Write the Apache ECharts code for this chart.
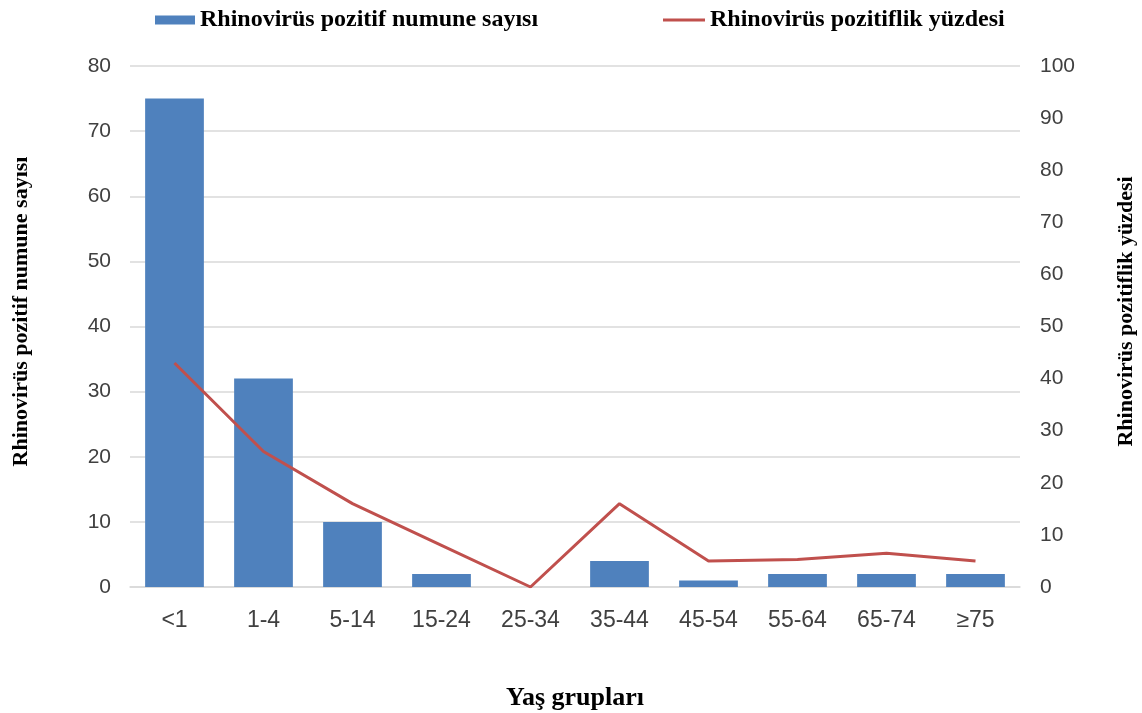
<!DOCTYPE html>
<html>
<head>
<meta charset="utf-8">
<script src="https://cdn.jsdelivr.net/npm/echarts@6/dist/echarts.min.js"></script>
<style>html,body{margin:0;padding:0;background:#fff}#c{width:1142px;height:713px}</style>
</head>
<body>
<div id="c"></div>
<script>
const categories = ['<1','1-4','5-14','15-24','25-34','35-44','45-54','55-64','65-74','≥75'];
const positiveCounts = [75, 32, 10, 2, 0, 4, 1, 2, 2, 2];
const positivityPercent = [43, 26, 16, 8, 0, 16, 5, 5.3, 6.5, 5];
const barName = 'Rhinovirüs pozitif numune sayısı';
const lineName = 'Rhinovirüs pozitiflik yüzdesi';
const xTitle = 'Yaş grupları';

const serif = '"Liberation Serif","Times New Roman",serif';
const sans = '"Liberation Sans",Arial,sans-serif';
const chart = echarts.init(document.getElementById('c'), null, {renderer:'canvas'});
chart.setOption({
  animation:false,
  backgroundColor:'#fff',
  grid:{left:130,right:122,top:66,bottom:126,containLabel:false,outerBoundsMode:'none'},
  legend:[
    {left:150, top:3, itemWidth:40, itemHeight:9, itemGap:4, data:[{name:barName, icon:'rect'}],
     textStyle:{fontFamily:serif,fontWeight:'bold',fontSize:24,color:'#000'}},
    {left:658, top:3, itemWidth:42, itemHeight:3, data:[{name:lineName, icon:'rect'}],
     textStyle:{fontFamily:serif,fontWeight:'bold',fontSize:24,color:'#000'}}
  ],
  xAxis:{type:'category', data:categories,
    name:xTitle, nameLocation:'middle', nameGap:98,
    nameTextStyle:{fontFamily:serif,fontWeight:'bold',fontSize:26,color:'#000'},
    axisLine:{lineStyle:{color:'#d9d9d9',width:1.5}}, axisTick:{show:false},
    axisLabel:{margin:22,fontFamily:sans,fontSize:23,color:'#404040'}},
  yAxis:[
    {type:'value', min:0, max:80, interval:10,
     name:barName, nameLocation:'middle', nameGap:98,
     nameTextStyle:{fontFamily:serif,fontWeight:'bold',fontSize:22,color:'#000',padding:[0,0,0,30]},
     axisLine:{show:false}, axisTick:{show:false},
     splitLine:{lineStyle:{color:'#d9d9d9',width:1.5}},
     axisLabel:{margin:19,fontFamily:sans,fontSize:21,color:'#404040'}},
    {type:'value', min:0, max:100, interval:10, position:'right',
     name:lineName, nameLocation:'middle', nameGap:95,
     nameTextStyle:{fontFamily:serif,fontWeight:'bold',fontSize:22,color:'#000',padding:[0,0,0,30]},
     axisLine:{show:false}, axisTick:{show:false}, splitLine:{show:false},
     axisLabel:{margin:20,fontFamily:sans,fontSize:21,color:'#404040'}}
  ],
  series:[
    {name:barName, type:'bar', data:positiveCounts, yAxisIndex:0, barCategoryGap:'34%',
     itemStyle:{color:'#4f81bd'}},
    {name:lineName, type:'line', data:positivityPercent, yAxisIndex:1, symbol:'none',
     lineStyle:{color:'#c0504d',width:3}, itemStyle:{color:'#c0504d'}}
  ]
});
</script>
</body>
</html>
